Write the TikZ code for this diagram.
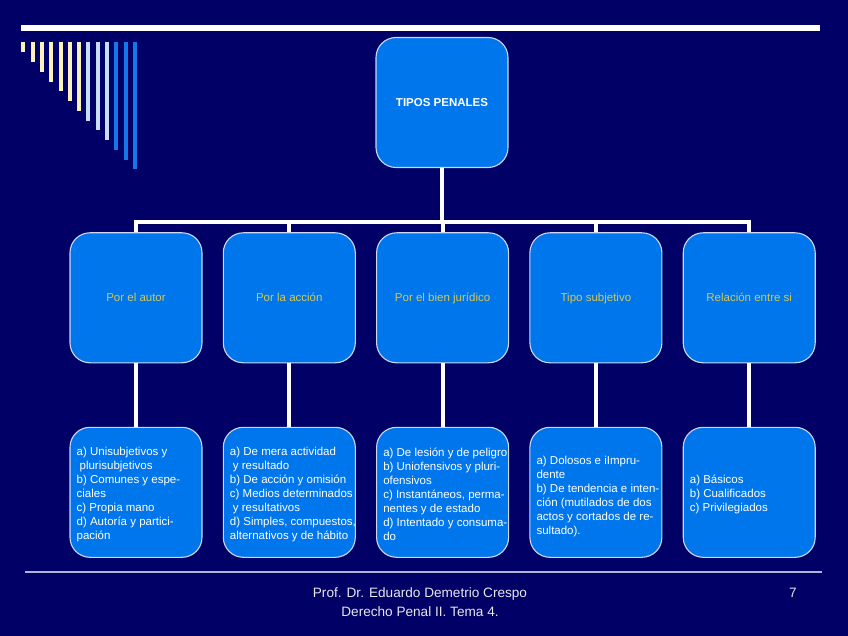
\documentclass[tikz,border=0pt]{standalone}
\usepackage{fontspec}
\setmainfont{Liberation Sans}
\usetikzlibrary{calc}
\definecolor{bg}{RGB}{0,0,102}
\definecolor{boxblue}{RGB}{0,118,236}
\definecolor{boxborder}{RGB}{205,215,240}
\definecolor{lblyellow}{RGB}{212,200,84}
\definecolor{paleyellow}{RGB}{250,242,185}
\definecolor{paleblue}{RGB}{200,222,248}
\definecolor{barblue}{RGB}{20,120,232}
\definecolor{footgray}{RGB}{230,230,235}
\definecolor{rulegray}{RGB}{175,180,215}
\begin{document}
\begin{tikzpicture}[x=1pt,y=-1pt,
  box/.style={draw=boxborder, line width=1.1pt, fill=boxblue, rounded corners=20pt,
    minimum width=132pt, minimum height=130pt, inner sep=0pt},
  lbl/.style={text=lblyellow, font=\fontsize{11.5}{14}\selectfont, text height=8.3pt, text depth=2.4pt, inner sep=0pt},
  txt/.style={text=white, font=\fontsize{11.5}{14}\selectfont, align=left, anchor=west, inner sep=0pt},
  conn/.style={draw=white, line width=4pt},
  foot/.style={text=footgray, font=\fontsize{13.6}{18.7}\selectfont, align=center, inner sep=0pt}
]
\fill[bg] (0,0) rectangle (848,636);
\useasboundingbox (0,0) rectangle (848,636);

% top rule and bottom rule
\fill[white] (21,25) rectangle (820,31);
\draw[rulegray, line width=1.6pt] (25,571.7) -- (822,571.7);

% decorative bars
\foreach \i in {0,...,12}{
  \pgfmathsetmacro{\xx}{23.3+9.3*\i}
  \pgfmathsetmacro{\yy}{52.3+9.75*\i}
  \ifnum\i<7 \def\bc{paleyellow}\else\ifnum\i<10 \def\bc{paleblue}\else\def\bc{barblue}\fi\fi
  \fill[\bc] (\xx-2,42) rectangle (\xx+2,\yy);
}

% top node
\node[box] (top) at (442,102.5) {\fontsize{11.5}{14}\selectfont\bfseries\color{white}TIPOS PENALES};

% row 2
\node[box] (a1) at (136,297.8) {};
\node[box] (a2) at (289.3,297.8) {};
\node[box] (a3) at (442.6,297.8) {};
\node[box] (a4) at (595.9,297.8) {};
\node[box] (a5) at (749.2,297.8) {};
\node[lbl] (l1) at ($(a1)+(0,1)$) {Por el autor};
\node[lbl] (l2) at ($(a2)+(0,1)$) {Por la acción};
\node[lbl] (l3) at ($(a3)+(0,1)$) {Por el bien jurídico};
\node[lbl] (l4) at ($(a4)+(0,1)$) {Tipo subjetivo};
\node[lbl] (l5) at ($(a5)+(0,1)$) {Relación entre si};

% row 3
\node[box] (b1) at (136,492.3) {};
\node[box] (b2) at (289.3,492.3) {};
\node[box] (b3) at (442.6,492.3) {};
\node[box] (b4) at (595.9,492.3) {};
\node[box] (b5) at (749.2,492.3) {};

\node[txt] (t1) at ($(b1.west)+(7,2.5)$) {a) Unisubjetivos y\\\hspace*{3pt}plurisubjetivos\\b) Comunes y espe-\\ciales\\c) Propia mano\\d) Autoría y partici-\\pación};
\node[txt] (t2) at ($(b2.west)+(7,2.5)$) {a) De mera actividad\\\hspace*{3pt}y resultado\\b) De acción y omisión\\c) Medios determinados\\\hspace*{3pt}y resultativos\\d) Simples, compuestos,\\alternativos y de hábito};
\node[txt] (t3) at ($(b3.west)+(7,2.5)$) {a) De lesión y de peligro\\b) Uniofensivos y pluri-\\ofensivos\\c) Instantáneos, perma-\\nentes y de estado\\d) Intentado y consuma-\\do};
\node[txt] (t4) at ($(b4.west)+(7,4)$) {a) Dolosos e iImpru-\\dente\\b) De tendencia e inten-\\ción (mutilados de dos\\actos y cortados de re-\\sultado).};
\node[txt] (t5) at ($(b5.west)+(7,2.5)$) {a) Básicos\\b) Cualificados\\c) Privilegiados};

% connectors
\coordinate (j) at (442,221.7);
\draw[conn] (top.south) -- (top.south |- j);
\draw[conn] (a1.north) -- (a1.north |- j) -- (a5.north |- j) -- (a5.north);
\foreach \k in {2,3,4}{
  \draw[conn] (a\k.north) -- (a\k.north |- j);
}
\foreach \k in {1,...,5}{
  \draw[conn] (a\k.south) -- (b\k.north);
}

% footer
\node[foot] (f1) at (420,602.3) {Prof. Dr. Eduardo Demetrio Crespo\\Derecho Penal II. Tema 4.};
\node[foot] (pg) at (793,593) {7};
\end{tikzpicture}
\end{document}
